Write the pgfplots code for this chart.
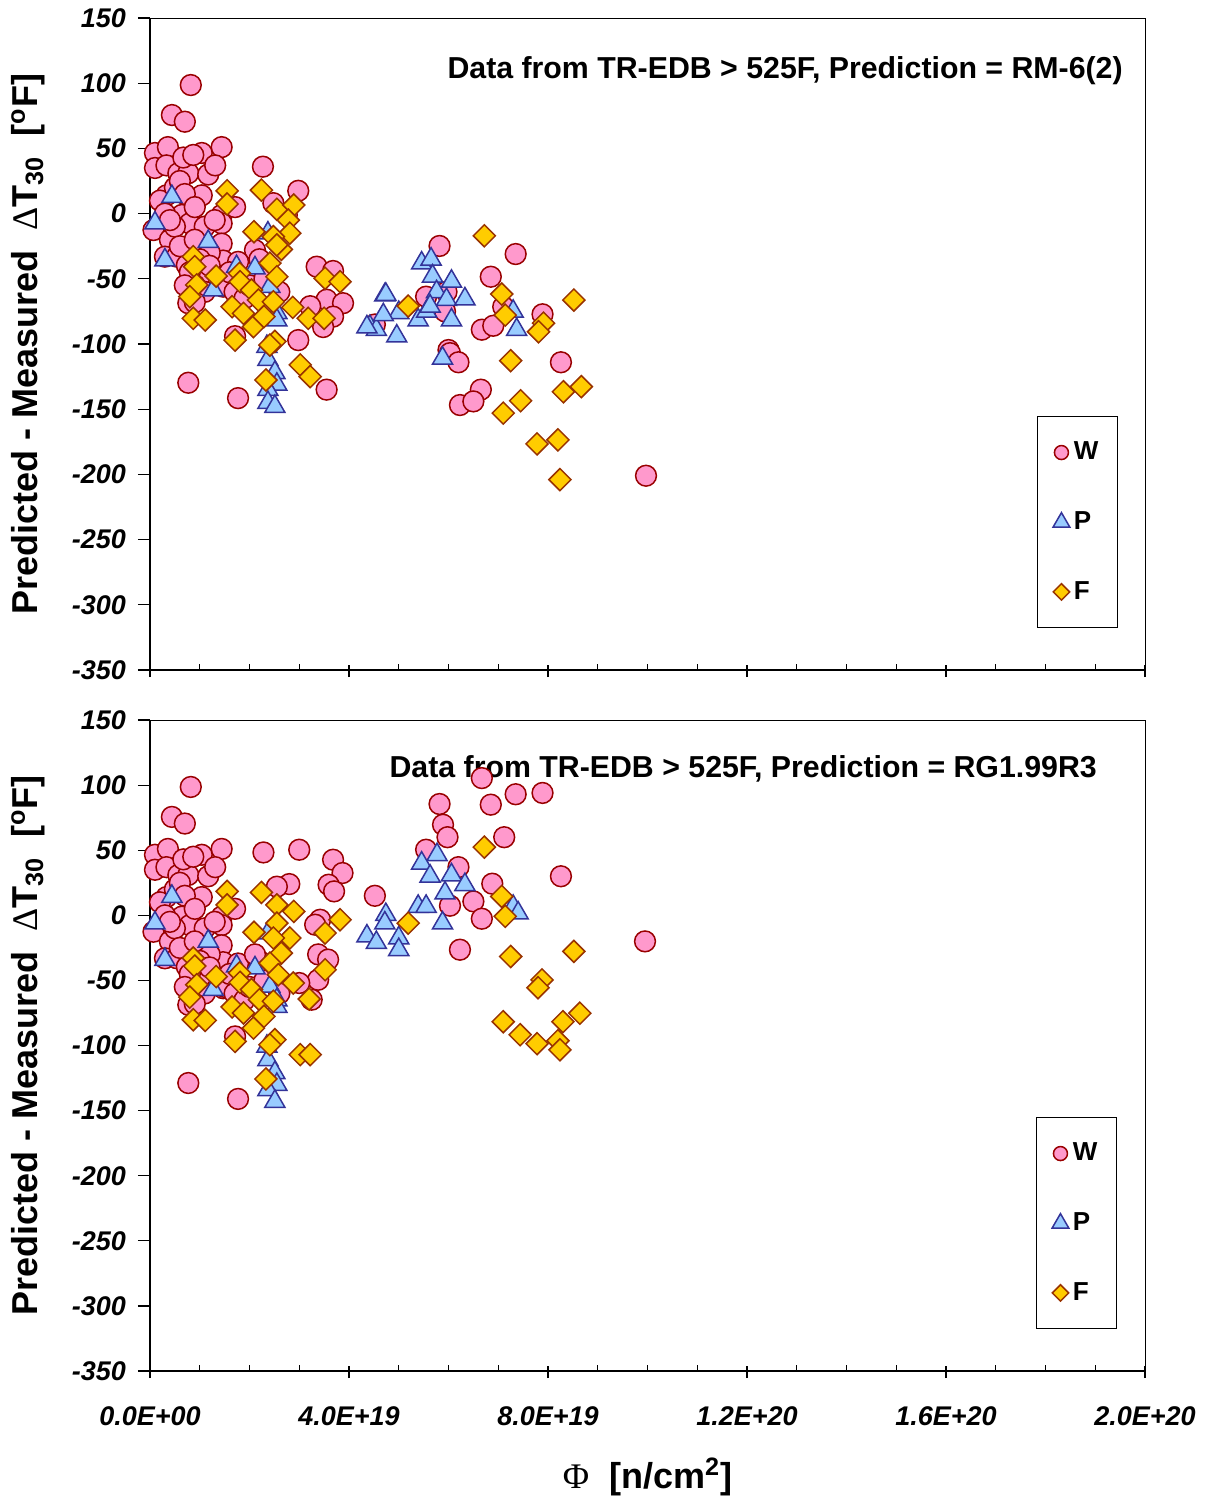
\documentclass[border=0pt]{standalone}
\usepackage{fontspec}
\setmainfont{Liberation Sans}
\newfontfamily\symfont{Liberation Serif}
\usepackage{pgfplots}
\usepackage{pgfplotstable}
\pgfplotsset{compat=1.18}

\definecolor{wfill}{HTML}{FF99CC}
\definecolor{wedge}{HTML}{990000}
\definecolor{pfill}{HTML}{99CCFF}
\definecolor{pedge}{HTML}{333399}
\definecolor{ffill}{HTML}{FFCC00}
\definecolor{fedge}{HTML}{993300}

% x in units of 1E+19 n/cm^2, y in degF
\pgfplotstableread{
x y
0.82 98.6
0.44 75.6
0.70 70.5
0.10 46.5
0.36 51
1.44 51
1.04 46.5
0.10 35
0.33 37
0.57 31
0.77 31
1.17 30
1.31 37
0.67 43
0.87 45
2.27 36
2.98 17.5
0.33 14
1.04 14
0.64 -1
0.80 -7.5
1.44 -1
1.44 -7.5
1.71 5
2.48 8
2.75 -1
0.07 -12.6
0.40 -20
1.00 -19
1.44 -23
2.11 -28
0.30 -33
0.54 -33
1.47 -36
1.77 -37
0.74 -39.5
1.00 -48
0.90 -55
1.47 -56
3.35 -40.7
3.68 -44
3.55 -66
3.88 -68.7
3.22 -71
3.68 -79
3.48 -87
0.77 -68.7
1.00 -61
1.71 -94
2.98 -97
0.77 -129.7
1.77 -141.5
3.55 -135
0.20 10
0.30 0
0.50 20
0.60 25
0.70 15
0.90 5
1.10 -10
1.20 -30
1.30 -5
0.50 -10
0.60 -25
0.80 -45
1.00 -35
1.20 -40
1.50 -55
1.70 -60
1.90 -65
2.00 -55
2.30 -50
2.60 -60
1.60 -45
2.20 -35
0.40 -5
0.90 -20
1.10 -60
0.70 -55
0.90 -68
5.82 -24.8
7.35 -31
6.85 -48.4
5.55 -63.7
5.96 -60
5.93 -75
7.10 -71.4
7.89 -77.2
6.67 -89
6.90 -86
4.52 -85
6.00 -104.6
6.03 -107
6.20 -114
8.26 -114
6.65 -135
6.23 -146.8
6.50 -144
9.97 -201
}\topW

\pgfplotstableread{
x y
0.44 13
0.10 -7.3
1.17 -21.5
0.30 -35.6
1.27 -58.6
1.74 -40.7
2.11 -41.7
2.37 -15
2.41 -56
2.55 -76
2.55 -81.7
2.35 -102
2.37 -112
2.51 -122
2.55 -131
2.37 -135
2.37 -145
2.51 -148
4.72 -62.4
4.42 -86.7
4.55 -89
4.96 -94
5.00 -76
5.46 -38
5.65 -35
5.68 -48
6.06 -52
5.76 -60
5.96 -66
6.33 -65.5
4.74 -62
4.69 -77.7
5.39 -81.6
5.56 -75
5.63 -71
6.06 -81.6
4.36 -87
5.88 -111
7.30 -75
7.37 -89
}\topP

\pgfplotstableread{
x y
1.55 17.5
1.55 7.4
2.24 18
2.55 3.3
2.89 6.6
2.78 -5
2.81 -15
2.09 -13.9
2.48 -17.7
2.64 -27.4
2.55 -24
2.41 -38
2.55 -48.4
0.87 -33
0.90 -40.7
1.33 -47.9
1.80 -45.8
1.81 -52.2
2.04 -58.6
0.94 -54.7
0.80 -63.7
0.87 -80.3
1.11 -81.6
1.65 -71.4
1.88 -76.5
2.08 -86.7
2.18 -66.3
2.29 -79
2.48 -67.6
2.87 -71.9
3.18 -80.3
3.50 -80.3
3.52 -49.6
3.82 -52.2
1.71 -97
2.51 -98
2.41 -100.8
3.02 -116
3.22 -125
2.33 -127.6
6.72 -17
5.19 -70.9
7.07 -61.7
7.14 -77.8
7.91 -84
7.81 -90.6
8.52 -66.3
7.25 -112.8
7.45 -143.5
7.10 -153
8.31 -136.6
8.67 -132.7
7.78 -176.6
8.20 -173.5
8.24 -204
}\topF

\pgfplotstableread{
x y
0.82 98.6
0.44 75.6
0.70 70.5
0.10 46.5
0.36 51
1.44 51
1.04 46.5
0.10 35
0.33 37
0.57 31
0.77 31
1.17 30
1.31 37
0.67 43
0.87 45
0.33 14
1.04 14
0.64 -1
0.80 -7.5
1.44 -1
1.44 -7.5
1.71 5
0.07 -12.6
0.40 -20
1.00 -19
1.44 -23
0.30 -33
0.54 -33
1.47 -36
1.77 -37
0.74 -39.5
1.00 -48
0.90 -55
1.47 -56
0.77 -68.7
1.00 -61
1.71 -93
0.77 -128.8
1.77 -141
0.20 10
0.30 0
0.50 20
0.60 25
0.70 15
0.90 5
1.10 -10
1.20 -30
1.30 -5
0.50 -10
0.60 -25
0.80 -45
1.00 -35
1.20 -40
1.50 -55
1.70 -60
1.90 -65
2.00 -55
2.30 -50
2.60 -60
1.60 -45
2.20 -35
0.40 -5
0.90 -20
1.10 -60
0.70 -55
0.90 -68
2.28 48.3
3.00 50.4
3.68 42.7
3.87 32.5
3.59 23.5
3.70 18.4
2.80 24
2.55 22
4.52 15
3.42 -3.4
3.32 -7.2
3.38 -30
3.58 -34
3.38 -49.5
3.25 -64.8
3.00 -52
2.11 -30
6.67 105.4
7.35 93
7.89 94
5.82 85.5
6.85 85
5.89 69.6
5.98 60
7.12 60
5.55 50.4
6.20 37
8.26 30
6.88 24.3
6.03 7.4
6.50 10.7
6.67 -2.6
6.23 -26.4
9.95 -20
}\botW

\pgfplotstableread{
x y
0.44 14.5
0.10 -6
1.17 -20
0.30 -34
1.27 -57
1.74 -39
2.11 -40.5
2.37 -13.6
2.41 -54.6
2.55 -65
2.55 -70
2.35 -100.7
2.37 -111
2.51 -121
2.55 -130
2.37 -134
2.51 -143
5.77 46.5
5.46 40
5.63 30
6.06 31
6.33 23.5
5.93 17
5.39 6.8
5.55 6.8
4.74 0.5
4.72 -6
5.88 -6
7.30 6.8
7.40 1.7
4.36 -16
4.55 -21
5.00 -17.4
5.00 -26.4
}\botP

\pgfplotstableread{
x y
1.55 18.4
1.55 8
2.24 17.6
2.55 8
2.89 3
2.55 -6
2.81 -17.4
2.09 -13
2.48 -17.4
2.64 -29
2.41 -36.7
2.58 -45.6
3.82 -3.4
3.52 -13.6
3.52 -41.8
2.88 -52
3.20 -64.3
0.87 -32.8
0.90 -39
1.33 -47
1.80 -44.3
1.81 -51.5
2.04 -57
0.94 -53.3
0.80 -62.8
0.87 -80.2
1.11 -80.7
1.65 -70.4
1.88 -75
2.08 -86.6
2.20 -64.8
2.29 -77.6
2.48 -66
1.71 -96.8
2.51 -95.5
2.41 -99.4
3.02 -107
3.22 -107
2.33 -125.7
6.72 52.4
7.07 14.5
7.14 -0.8
5.19 -6
8.52 -27.7
7.25 -31.6
7.88 -49.6
7.80 -55.6
7.10 -81.7
8.30 -81.7
7.44 -91.7
7.78 -98.6
8.20 -96.3
8.24 -103.3
8.64 -75.2
}\botF

\newcommand\tickfont{\fontsize{13.5}{15}\selectfont\bfseries\itshape}
\newcommand\labfont{\fontsize{18}{21}\selectfont\bfseries}

\pgfplotsset{
  wser/.style={only marks, mark=*, mark size=5.2pt,
    mark options={fill=wfill, draw=wedge, line width=0.75pt}},
  pser/.style={only marks, mark=triangle*, mark size=5.8pt,
    mark options={fill=pfill, draw=pedge, line width=0.75pt}},
  fser/.style={only marks, mark=square*, mark size=3.9pt,
    mark options={fill=ffill, draw=fedge, line width=0.75pt, rotate=45}},
  panel/.style={
    scale only axis, width=497.5pt,
    xmin=0, xmax=20, ymin=-350, ymax=150,
    clip=false,
    axis x line*=bottom, axis y line*=left,
    axis line style={-, black, line width=0.9pt},
    xtick={0,4,8,12,16,20},
    minor xtick={1,2,3,5,6,7,9,10,11,13,14,15,17,18,19},
    ytick={-350,-300,...,150},
    yticklabels={-350,-300,-250,-200,-150,-100,-50,0,50,100,150},
    tick align=center,
    major tick length=6pt, minor tick length=3pt,
    tick style={black, line width=0.6pt},
    ytick style={xshift=-3pt},
    major x tick style={yshift=-0.5pt},
    minor x tick style={yshift=1.5pt},
    tick label style={font=\tickfont},
    yticklabel style={xshift=-5.5pt},
    ylabel={\labfont Predicted - Measured \ {\symfont\fontsize{18}{21}\selectfont\mdseries Δ}T\textsubscript{30} \ [\textsuperscript{o}F]},
    ylabel style={at={(axis description cs:-0.1226,0.5)}, anchor=center},
    legend cell align=left,
    legend style={draw=black, line width=0.5pt, fill=white,
      font=\fontsize{13}{15}\selectfont\bfseries,
      anchor=north west, inner xsep=7.8pt, inner ysep=10.8pt,
      row sep=20.4pt},
  }
}

\begin{document}
\begin{tikzpicture}
\path[use as bounding box] (0,0) rectangle (605pt,-748pt);

% upper panel: RM-6(2)
\begin{axis}[panel, height=326pt, at={(75pt,-335pt)}, anchor=south west,
  xticklabels={},
  legend style={at={(0.8915,0.3896)}}]
\addplot[wser, forget plot] table {\topW};
\addplot[pser, forget plot] table {\topP};
\addplot[fser, forget plot] table {\topF};
\addlegendimage{only marks, mark=*, mark size=3.5pt, mark options={fill=wfill, draw=wedge, line width=0.75pt}}
\addlegendentry{W}
\addlegendimage{only marks, mark=triangle*, mark size=4.8pt, mark options={fill=pfill, draw=pedge, line width=0.75pt}}
\addlegendentry{P}
\addlegendimage{only marks, mark=square*, mark size=2.9pt, mark options={fill=ffill, draw=fedge, line width=0.75pt, rotate=45}}
\addlegendentry{F}
\draw[black, line width=0.5pt] (rel axis cs:0,1) -- (rel axis cs:1,1) -- (rel axis cs:1,0);
\node[anchor=east, inner sep=0pt, font=\fontsize{15.15}{18}\selectfont\bfseries] at (rel axis cs:0.978,0.919)
  {Data from TR-EDB > 525F, Prediction = RM-6(2)};
\end{axis}

% lower panel: RG1.99R3
\begin{axis}[panel, height=325.5pt, at={(75pt,-685.5pt)}, anchor=south west,
  xticklabels={0.0E+00,4.0E+19,8.0E+19,1.2E+20,1.6E+20,2.0E+20},
  xticklabel style={yshift=-11.5pt},
  xlabel={\labfont{\symfont\mdseries Φ} \ [n/cm\textsuperscript{2}]},
  xlabel style={at={(axis description cs:0.5,0)}, anchor=center, yshift=-53pt},
  legend style={at={(0.8905,0.3902)}}]
\addplot[wser, forget plot] table {\botW};
\addplot[pser, forget plot] table {\botP};
\addplot[fser, forget plot] table {\botF};
\addlegendimage{only marks, mark=*, mark size=3.5pt, mark options={fill=wfill, draw=wedge, line width=0.75pt}}
\addlegendentry{W}
\addlegendimage{only marks, mark=triangle*, mark size=4.8pt, mark options={fill=pfill, draw=pedge, line width=0.75pt}}
\addlegendentry{P}
\addlegendimage{only marks, mark=square*, mark size=2.9pt, mark options={fill=ffill, draw=fedge, line width=0.75pt, rotate=45}}
\addlegendentry{F}
\draw[black, line width=0.5pt] (rel axis cs:0,1) -- (rel axis cs:1,1) -- (rel axis cs:1,0);
\node[anchor=east, inner sep=0pt, font=\fontsize{15.15}{18}\selectfont\bfseries] at (rel axis cs:0.952,0.925)
  {Data from TR-EDB > 525F, Prediction = RG1.99R3};
\end{axis}
\end{tikzpicture}
\end{document}
